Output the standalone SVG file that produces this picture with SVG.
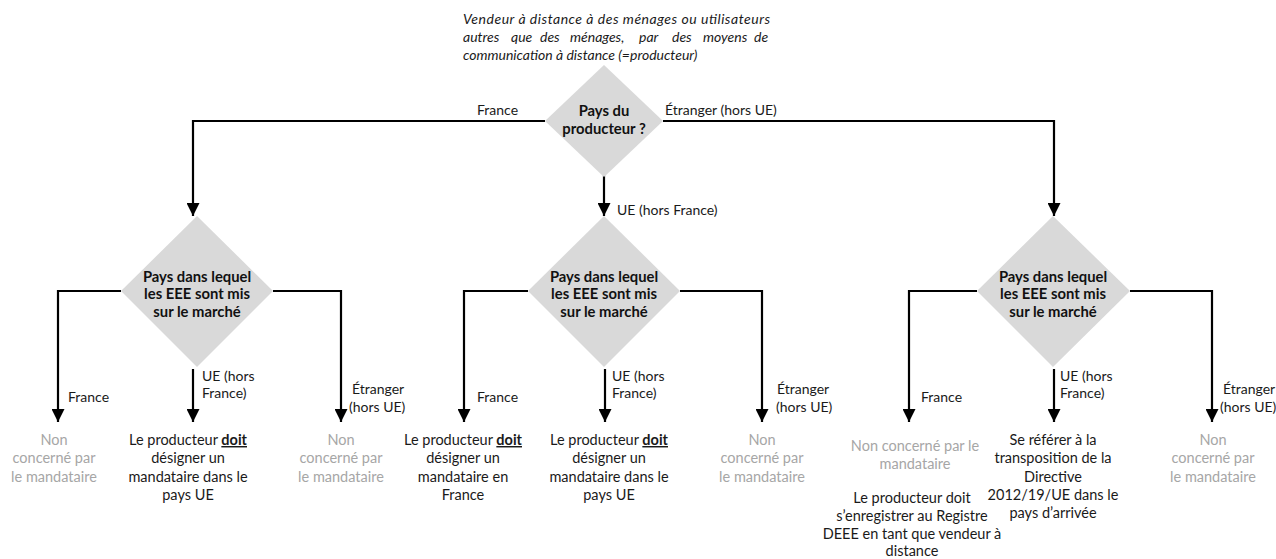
<svg xmlns="http://www.w3.org/2000/svg" width="1276" height="559" viewBox="0 0 1276 559">
<defs>
<style>
text{font-family:Lato,"Liberation Sans",sans-serif;font-size:14.5px;fill:#1a1a1a}
.q{font-weight:bold;text-anchor:middle;fill:#111;font-size:14.8px}
.d{fill:#d9d9d9;stroke:none}
.c{fill:none;stroke:#000;stroke-width:2.2}
.g{fill:#a6a6a6;text-anchor:middle}
.r{text-anchor:middle}
.lbl{font-size:14px}
.it{font-style:italic;font-size:14px}
</style>
<marker id="ah" markerUnits="userSpaceOnUse" markerWidth="13" markerHeight="13" viewBox="0 0 10 10" refX="10" refY="5" orient="auto">
<path d="M0,0 L10,5 L0,10 z" fill="#000"/>
</marker>
</defs>
<rect width="1276" height="559" fill="#fff"/>

<g id="intro">
<text class="it" x="463" y="24" textLength="307" lengthAdjust="spacing">Vendeur à distance à des ménages ou utilisateurs</text>
<text class="it" y="42"><tspan x="463">autres</tspan><tspan x="511">que</tspan><tspan x="540">des</tspan><tspan x="570">ménages,</tspan><tspan x="639">par</tspan><tspan x="672">des</tspan><tspan x="703">moyens</tspan><tspan x="754">de</tspan></text>
<text class="it" x="463" y="60">communication à distance (=producteur)</text>
</g>

<g id="connectors">
<path class="c" d="M545,121 H193 V216" marker-end="url(#ah)"/>
<path class="c" d="M604,175 V216" marker-end="url(#ah)"/>
<path class="c" d="M663,121 H1054 V216" marker-end="url(#ah)"/>

<path class="c" d="M121,291 H58 V422" marker-end="url(#ah)"/>
<path class="c" d="M193,369 V422" marker-end="url(#ah)"/>
<path class="c" d="M273,291 H341 V422" marker-end="url(#ah)"/>

<path class="c" d="M528,291 H464 V422" marker-end="url(#ah)"/>
<path class="c" d="M605,369 V422" marker-end="url(#ah)"/>
<path class="c" d="M680,291 H762 V422" marker-end="url(#ah)"/>

<path class="c" d="M977,291 H909 V422" marker-end="url(#ah)"/>
<path class="c" d="M1054,369 V422" marker-end="url(#ah)"/>
<path class="c" d="M1130,291 H1212 V422" marker-end="url(#ah)"/>

<text class="lbl" x="477" y="115">France</text>
<text class="lbl" x="665" y="115">Étranger (hors UE)</text>
<text class="lbl" x="617" y="215">UE (hors France)</text>

<text class="lbl" x="68" y="402">France</text>
<text class="lbl" x="202" y="381">UE (hors</text>
<text class="lbl" x="202" y="398">France)</text>
<text class="lbl" x="352" y="394">Étranger</text>
<text class="lbl" x="349" y="412">(hors UE)</text>

<text class="lbl" x="477" y="402">France</text>
<text class="lbl" x="612" y="381">UE (hors</text>
<text class="lbl" x="612" y="398">France)</text>
<text class="lbl" x="777" y="394">Étranger</text>
<text class="lbl" x="776" y="412">(hors UE)</text>

<text class="lbl" x="921" y="402">France</text>
<text class="lbl" x="1060" y="381">UE (hors</text>
<text class="lbl" x="1060" y="398">France)</text>
<text class="lbl" x="1223" y="394">Étranger</text>
<text class="lbl" x="1220" y="412">(hors UE)</text>
</g>

<g id="q-producteur">
<polygon class="d" points="604,65 663,121 604,177 545,121"/>
<text class="q" x="604" y="116">Pays du</text>
<text class="q" x="604" y="134">producteur ?</text>
</g>

<g id="q-france">
<polygon class="d" points="197,216 273,291 197,367 121,291"/>
<text class="q" x="197" y="282">Pays dans lequel</text>
<text class="q" x="197" y="299">les EEE sont mis</text>
<text class="q" x="197" y="317">sur le marché</text>
</g>

<g id="q-ue">
<polygon class="d" points="604,216 680,291 604,367 528,291"/>
<text class="q" x="604" y="282">Pays dans lequel</text>
<text class="q" x="604" y="299">les EEE sont mis</text>
<text class="q" x="604" y="317">sur le marché</text>
</g>

<g id="q-etranger">
<polygon class="d" points="1053,216 1130,291 1053,367 977,291"/>
<text class="q" x="1053" y="282">Pays dans lequel</text>
<text class="q" x="1053" y="299">les EEE sont mis</text>
<text class="q" x="1053" y="317">sur le marché</text>
</g>

<g id="r1">
<text class="g" x="54" y="445">Non</text>
<text class="g" x="54" y="463">concerné par</text>
<text class="g" x="54" y="482">le mandataire</text>
</g>
<g id="r2">
<text class="r" x="188" y="445">Le producteur <tspan font-weight="bold" text-decoration="underline">doit</tspan></text>
<text class="r" x="188" y="463">désigner un</text>
<text class="r" x="188" y="482">mandataire dans le</text>
<text class="r" x="188" y="500">pays UE</text>
</g>
<g id="r3">
<text class="g" x="341" y="445">Non</text>
<text class="g" x="341" y="463">concerné par</text>
<text class="g" x="341" y="482">le mandataire</text>
</g>

<g id="r4">
<text class="r" x="463" y="445">Le producteur <tspan font-weight="bold" text-decoration="underline">doit</tspan></text>
<text class="r" x="463" y="463">désigner un</text>
<text class="r" x="463" y="482">mandataire en</text>
<text class="r" x="463" y="500">France</text>
</g>
<g id="r5">
<text class="r" x="609" y="445">Le producteur <tspan font-weight="bold" text-decoration="underline">doit</tspan></text>
<text class="r" x="609" y="463">désigner un</text>
<text class="r" x="609" y="482">mandataire dans le</text>
<text class="r" x="609" y="500">pays UE</text>
</g>
<g id="r6">
<text class="g" x="762" y="445">Non</text>
<text class="g" x="762" y="463">concerné par</text>
<text class="g" x="762" y="482">le mandataire</text>
</g>

<g id="r7">
<text class="g" x="915" y="451">Non concerné par le</text>
<text class="g" x="915" y="469">mandataire</text>
<text class="r" x="912" y="503">Le producteur doit</text>
<text class="r" x="912" y="521">s’enregistrer au Registre</text>
<text class="r" x="912" y="539">DEEE en tant que vendeur à</text>
<text class="r" x="912" y="556">distance</text>
</g>
<g id="r8">
<text class="r" x="1053" y="445">Se référer à la</text>
<text class="r" x="1053" y="463">transposition de la</text>
<text class="r" x="1053" y="482">Directive</text>
<text class="r" x="1053" y="500">2012/19/UE  dans le</text>
<text class="r" x="1053" y="518">pays d’arrivée</text>
</g>
<g id="r9">
<text class="g" x="1213" y="445">Non</text>
<text class="g" x="1213" y="463">concerné par</text>
<text class="g" x="1213" y="482">le mandataire</text>
</g>
</svg>
